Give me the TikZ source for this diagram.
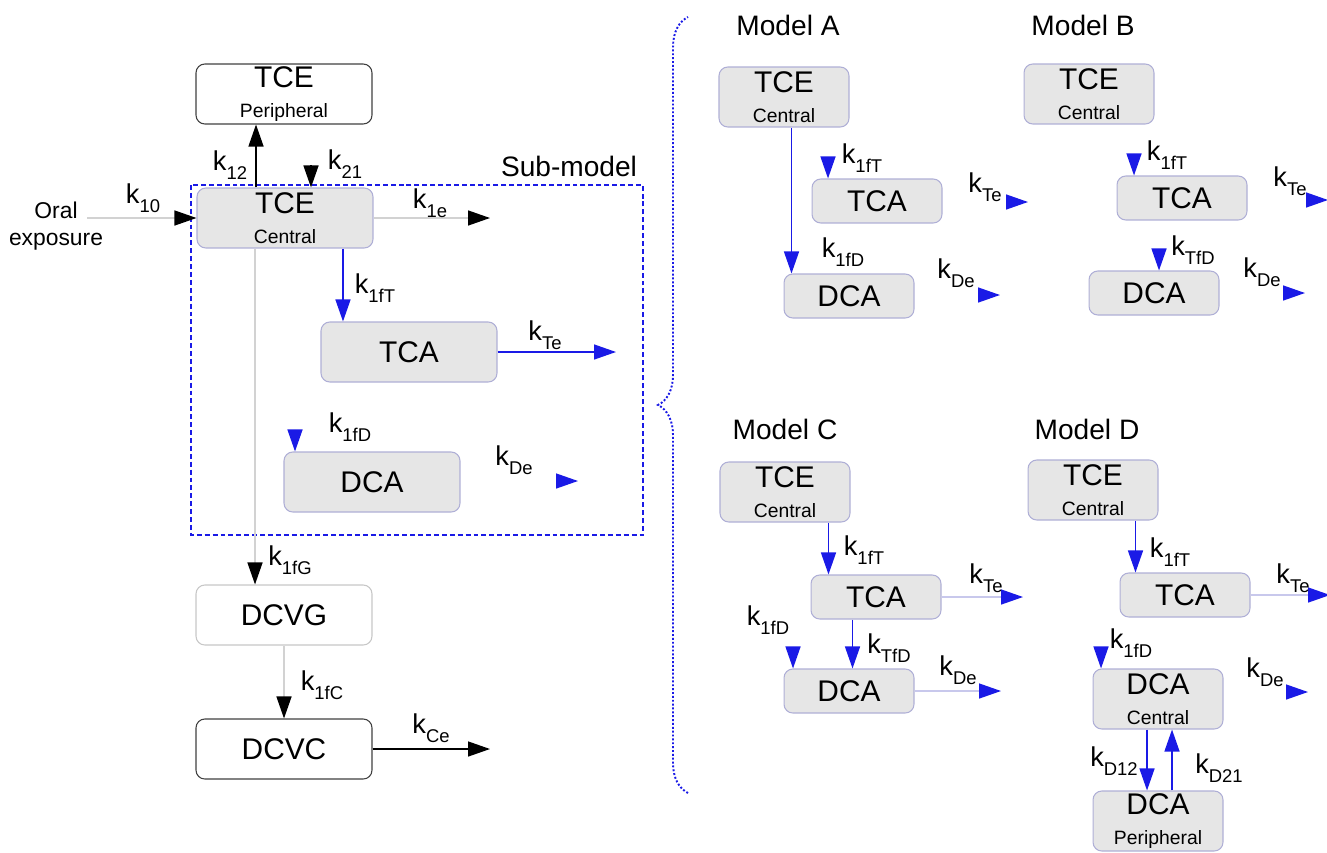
\documentclass[tikz,border=0pt]{standalone}
\usepackage{fontspec}
\setmainfont{Liberation Sans}
\usetikzlibrary{arrows.meta,decorations.pathreplacing}
\definecolor{Ink}{HTML}{1A1AE6}
\definecolor{BoxGray}{HTML}{E6E6E6}
\definecolor{Rim}{HTML}{AFAFD6}
\definecolor{Faint}{HTML}{D2D2D2}
\definecolor{FaintBlue}{HTML}{C8C8EC}

\newcommand{\kr}[1]{k\raisebox{-5pt}{\fontsize{10.5}{12}\selectfont #1}}
\newcommand{\twol}[2]{{\fontsize{17}{18}\selectfont #1}\\[-1pt]{\fontsize{11}{12}\selectfont #2}}

\begin{document}
\begin{tikzpicture}[
    x=0.02cm,y=-0.02cm,
    comp/.style={draw=Rim, fill=BoxGray, rounded corners=5pt, line width=0.6pt,
      minimum width=3.52cm, minimum height=1.2cm, inner sep=1pt,
      align=center, font=\fontsize{17}{18}\selectfont},
    smallbox/.style={comp, minimum width=2.6cm, minimum height=0.88cm},
    twobox/.style={comp, minimum width=2.6cm, minimum height=1.2cm},
    open/.style={comp, draw=black!75, fill=white},
    ghost/.style={comp, draw=black!22, fill=white},
    rate/.style={font=\fontsize{15.5}{16}\selectfont, inner sep=0pt},
    modelname/.style={font=\fontsize{16}{18}\selectfont, inner sep=0pt},
    blk/.style={-{Triangle[length=0.44cm,width=0.3cm]}, line width=0.8pt, draw=black},
    fnt/.style={-{Triangle[length=0.44cm,width=0.3cm,color=black]}, line width=0.8pt, draw=Faint},
    blu/.style={-{Triangle[length=0.44cm,width=0.3cm]}, line width=0.8pt, draw=Ink},
    fntb/.style={-{Triangle[length=0.44cm,width=0.3cm,color=Ink]}, line width=0.8pt, draw=FaintBlue},
    tip/.style={-{Triangle[length=0.44cm,width=0.3cm,color=Ink]}, line width=0.8pt, draw=white},
    sub/.style={draw=Ink, line width=1.2pt, dash pattern=on 2.8pt off 1.7pt},
    brc/.style={draw=Ink, line width=1.1pt, dash pattern=on 1.1pt off 1.1pt, decorate,
      decoration={brace, amplitude=0.6cm}}
  ]
    \useasboundingbox (0,0) rectangle (1327,852);

    % sub-model frame and brace
    \draw[sub] (191,185) rectangle (643,535);
    \node[modelname] (subname) at (569,166) {Sub-model};
    \draw[brc] (688,793) -- (688,17);

    % full model
    \node[open] (tceP) at (284,94) {\twol{TCE}{Peripheral}};
    \node[comp] (tceC) at (285,218) {\twol{TCE}{Central}};
    \node[comp] (tca) at (409,352) {TCA};
    \node[comp] (dca) at (372,482) {DCA};
    \node[ghost] (dcvg) at (284,615) {DCVG};
    \node[open] (dcvc) at (284,749) {DCVC};
    \node[font=\fontsize{13}{15}\selectfont, align=center, inner sep=0pt] (oral) at (56,226) {Oral\\exposure};

    \coordinate (k21s) at (311,165);
    \coordinate (oralS) at (87,218);
    \coordinate (k1eEnd) at (490,218);
    \coordinate (kTeEnd) at (616,352);
    \coordinate (dcaIn) at (295,428);
    \coordinate (kDeS) at (550,481);
    \coordinate (kDeEnd) at (578,481);
    \coordinate (kCeEnd) at (490,749);

    \draw[fnt] (oralS) -- (tceC.west);
    \draw[blk] ([xshift=-0.58cm]tceC.north) -- ([xshift=-0.58cm]tceC.north |- tceP.south);
    \draw[blk] (k21s) -- (k21s |- tceC.north);
    \draw[fnt] (tceC.east) -- (k1eEnd);
    \draw[blu] ([xshift=1.16cm]tceC.south) -- ([xshift=1.16cm]tceC.south |- tca.north);
    \draw[blu] (tca.east) -- (kTeEnd);
    \draw[tip] (dcaIn) -- (dcaIn |- dca.north);
    \draw[tip] (kDeS) -- (kDeEnd);
    \draw[fnt] ([xshift=-0.6cm]tceC.south) -- ([xshift=-0.6cm]tceC.south |- dcvg.north);
    \draw[fnt] (dcvg.south) -- (dcvc.north);
    \draw[blk] (dcvc.east) -- (kCeEnd);

    \node[rate] (l10) at (143,198) {\kr{10}};
    \node[rate] (l12) at (230,165) {\kr{12}};
    \node[rate] (l21) at (345,164) {\kr{21}};
    \node[rate] (l1e) at (430,203) {\kr{1e}};
    \node[rate] (l1fT) at (375,288) {\kr{1fT}};
    \node[rate] (lTe) at (545,335) {\kr{Te}};
    \node[rate] (l1fD) at (350,427) {\kr{1fD}};
    \node[rate] (lDe) at (514,460) {\kr{De}};
    \node[rate] (l1fG) at (290,560) {\kr{1fG}};
    \node[rate] (l1fC) at (322,685) {\kr{1fC}};
    \node[rate] (lCe) at (431,728) {\kr{Ce}};

    % Model A
    \node[modelname] (nameA) at (788,25) {Model A};
    \node[twobox] (aTce) at (784,97) {\twol{TCE}{Central}};
    \node[smallbox] (aTca) at (877,201) {TCA};
    \node[smallbox] (aDca) at (849,296) {DCA};
    \coordinate (aIn) at (828,152);
    \coordinate (aTeS) at (1000,202);
    \coordinate (aTeE) at (1028,202);
    \coordinate (aDeS) at (973,295);
    \coordinate (aDeE) at (1000,295);
    \draw[blu] ([xshift=0.15cm]aTce.south) -- ([xshift=0.15cm]aTce.south |- aDca.north);
    \draw[tip] (aIn) -- (aIn |- aTca.north);
    \draw[tip] (aTeS) -- (aTeE);
    \draw[tip] (aDeS) -- (aDeE);
    \node[rate] (a1fT) at (862,158) {\kr{1fT}};
    \node[rate] (aTe) at (985,187) {\kr{Te}};
    \node[rate] (a1fD) at (843,252) {\kr{1fD}};
    \node[rate] (aDe) at (956,273) {\kr{De}};

    % Model B
    \node[modelname] (nameB) at (1083,25) {Model B};
    \node[twobox] (bTce) at (1089,94) {\twol{TCE}{Central}};
    \node[smallbox] (bTca) at (1182,198) {TCA};
    \node[smallbox] (bDca) at (1154,293) {DCA};
    \coordinate (bIn) at (1134,149);
    \coordinate (bDIn) at (1159,245);
    \coordinate (bTeS) at (1302,200);
    \coordinate (bTeE) at (1328,200);
    \coordinate (bDeS) at (1278,293);
    \coordinate (bDeE) at (1305,293);
    \draw[tip] (bIn) -- (bIn |- bTca.north);
    \draw[tip] (bDIn) -- (bDIn |- bDca.north);
    \draw[tip] (bTeS) -- (bTeE);
    \draw[tip] (bDeS) -- (bDeE);
    \node[rate] (b1fT) at (1167,155) {\kr{1fT}};
    \node[rate] (bTe) at (1290,181) {\kr{Te}};
    \node[rate] (bTfD) at (1193,250) {\kr{TfD}};
    \node[rate] (bDe) at (1262,272) {\kr{De}};

    % Model C
    \node[modelname] (nameC) at (785,429) {Model C};
    \node[twobox] (cTce) at (785,492) {\twol{TCE}{Central}};
    \node[smallbox] (cTca) at (876,597) {TCA};
    \node[smallbox] (cDca) at (849,691) {DCA};
    \coordinate (cTeE) at (1023,597);
    \coordinate (cDeE) at (1001,691);
    \coordinate (cIn) at (793,645);
    \draw[blu] ([xshift=0.87cm]cTce.south) -- ([xshift=0.87cm]cTce.south |- cTca.north);
    \draw[blu] ([xshift=-0.47cm]cTca.south) -- ([xshift=-0.47cm]cTca.south |- cDca.north);
    \draw[fntb] (cTca.east) -- (cTeE);
    \draw[fntb] (cDca.east) -- (cDeE);
    \draw[tip] (cIn) -- (cIn |- cDca.north);
    \node[rate] (c1fT) at (864,550) {\kr{1fT}};
    \node[rate] (cTe) at (986,578) {\kr{Te}};
    \node[rate] (c1fD) at (768,620) {\kr{1fD}};
    \node[rate] (cTfD) at (889,648) {\kr{TfD}};
    \node[rate] (cDe) at (958,670) {\kr{De}};

    % Model D
    \node[modelname] (nameD) at (1087,429) {Model D};
    \node[twobox] (dTce) at (1093,490) {\twol{TCE}{Central}};
    \node[smallbox] (dTca) at (1185,595) {TCA};
    \node[twobox] (dDca) at (1158,699) {\twol{DCA}{Central}};
    \node[twobox] (dDcaP) at (1158,821) {\twol{DCA}{Peripheral}};
    \coordinate (dTeE) at (1330,595);
    \coordinate (dIn) at (1101,642);
    \coordinate (dDeS) at (1281,692);
    \coordinate (dDeE) at (1308,692);
    \draw[blu] ([xshift=0.85cm]dTce.south) -- ([xshift=0.85cm]dTce.south |- dTca.north);
    \draw[fntb] (dTca.east) -- (dTeE);
    \draw[tip] (dIn) -- (dIn |- dDca.north);
    \draw[tip] (dDeS) -- (dDeE);
    \draw[blu] ([xshift=-0.22cm]dDca.south) -- ([xshift=-0.22cm]dDca.south |- dDcaP.north);
    \draw[blu] ([xshift=0.28cm]dDcaP.north) -- ([xshift=0.28cm]dDcaP.north |- dDca.south);
    \node[rate] (d1fT) at (1170,552) {\kr{1fT}};
    \node[rate] (dTe) at (1293,578) {\kr{Te}};
    \node[rate] (d1fD) at (1131,643) {\kr{1fD}};
    \node[rate] (dDe) at (1265,672) {\kr{De}};
    \node[rate] (dD12) at (1114,761) {\kr{D12}};
    \node[rate] (dD21) at (1219,768) {\kr{D21}};
  \end{tikzpicture}
\end{document}
